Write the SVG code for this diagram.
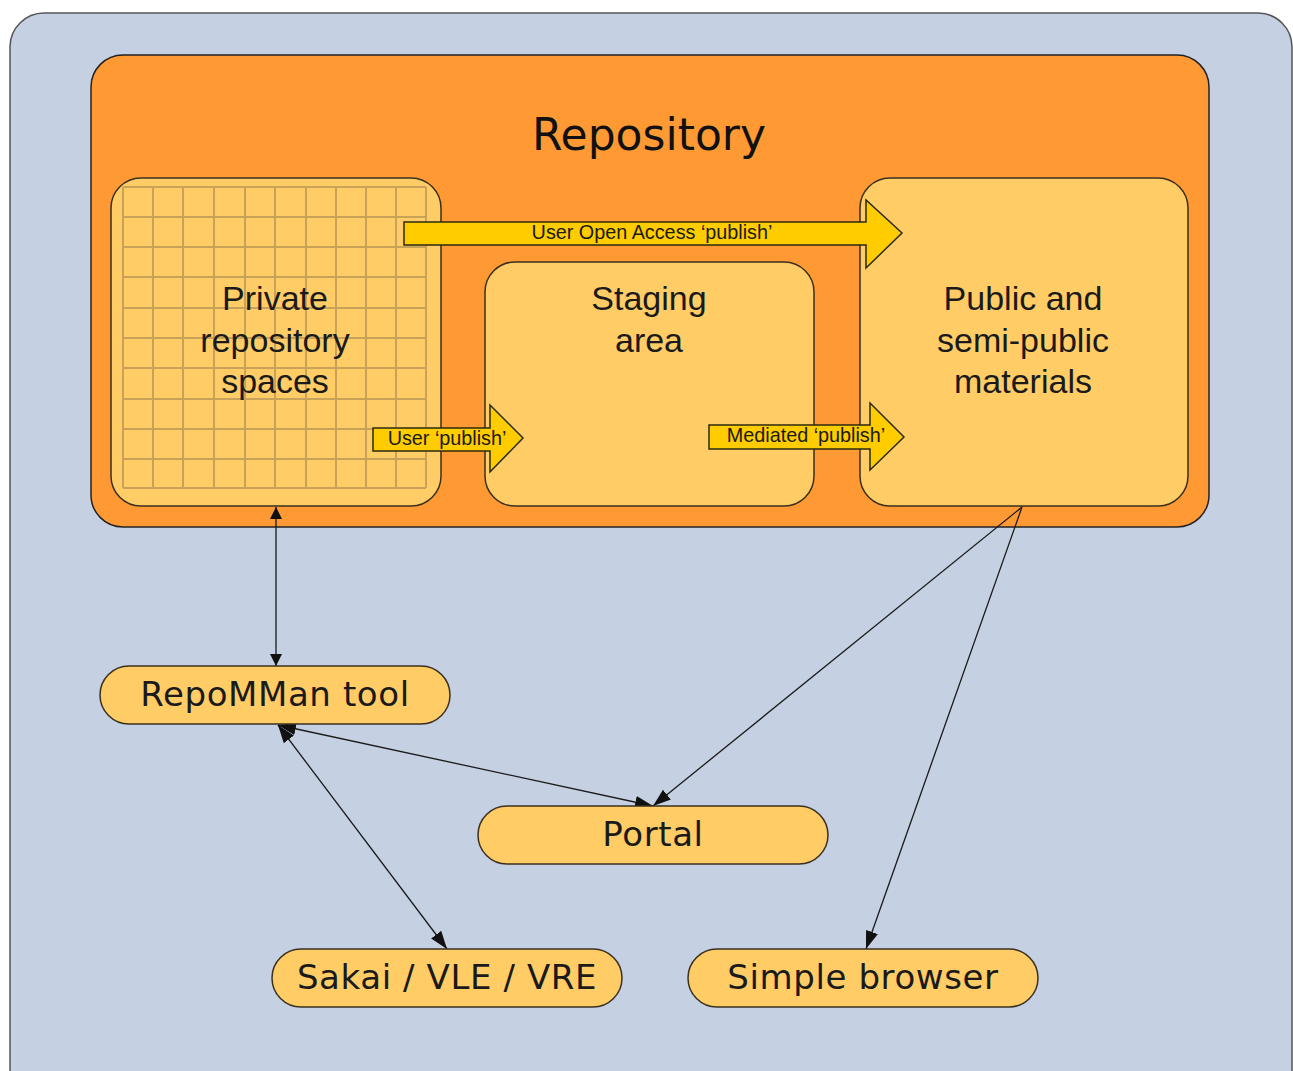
<svg xmlns="http://www.w3.org/2000/svg" width="1293" height="1071" viewBox="0 0 1293 1071">
  <defs>
    <style>
      .area { fill: #ffcc66; stroke: #3a3020; stroke-width: 1.5; }
      .pill { fill: #ffcc66; stroke: #3a3020; stroke-width: 1.5; }
      .box-label { font-family: "Liberation Sans", Arial, sans-serif; font-size: 34px; fill: #1a1a1a; text-anchor: middle; }
      .node-label { font-family: "DejaVu Sans", Verdana, sans-serif; font-size: 34px; letter-spacing: 0.6px; fill: #1a1a1a; text-anchor: middle; }
      .flow { fill: #ffcc00; stroke: #2a2a10; stroke-width: 1.5; stroke-linejoin: miter; }
      .flow-label { font-family: "Liberation Sans", Arial, sans-serif; font-size: 19.8px; fill: #1a1a1a; text-anchor: middle; }
      .link { stroke: #1a1a1a; stroke-width: 1.3; fill: none; }
      .grid { stroke: #c9a25a; stroke-width: 2; }
    </style>
    <marker id="head" viewBox="0 0 10 10" refX="10" refY="5" markerWidth="12" markerHeight="12" markerUnits="userSpaceOnUse" orient="auto-start-reverse">
      <path d="M0,0 L10,5 L0,10 Z" fill="#111"/>
    </marker>
    <marker id="headL" viewBox="0 0 10 10" refX="10" refY="5" markerWidth="18" markerHeight="18" markerUnits="userSpaceOnUse" orient="auto-start-reverse">
      <path d="M0,1.5 L10,5 L0,8.5 Z" fill="#111"/>
    </marker>
    <clipPath id="privClip">
      <rect x="111" y="178" width="330" height="328" rx="30"/>
    </clipPath>
  </defs>

  <!-- backdrop -->
  <rect x="10" y="13" width="1282" height="1100" rx="34" fill="#c5d0e3" stroke="#555" stroke-width="1.5"/>

  <!-- repository container -->
  <g id="repository">
    <rect x="91" y="55" width="1118" height="472" rx="32" fill="#ff9933" stroke="#222" stroke-width="1.5"/>
    <text x="649" y="150" font-family="DejaVu Sans, Verdana, sans-serif" font-size="44" fill="#111" text-anchor="middle">Repository</text>
  </g>

  <!-- private spaces with grid fill -->
  <g id="private-spaces">
    <rect class="area" x="111" y="178" width="330" height="328" rx="30"/>
    <g clip-path="url(#privClip)" class="grid">
      <path d="M123,187 V488 M153,187 V488 M183,187 V488 M214,187 V488 M245,187 V488 M275,187 V488 M306,187 V488 M336,187 V488 M366,187 V488 M396,187 V488 M426,187 V488"/>
      <path d="M123,187 H426 M123,217 H426 M123,247 H426 M123,277 H426 M123,308 H426 M123,338 H426 M123,368 H426 M123,399 H426 M123,429 H426 M123,459 H426 M123,488 H426"/>
    </g>
    <text class="box-label" x="275" y="310">Private</text>
    <text class="box-label" x="275" y="352">repository</text>
    <text class="box-label" x="275" y="393">spaces</text>
  </g>

  <g id="staging-area">
    <rect class="area" x="485" y="262" width="329" height="244" rx="30"/>
    <text class="box-label" x="649" y="310">Staging</text>
    <text class="box-label" x="649" y="352">area</text>
  </g>

  <g id="public-materials">
    <rect class="area" x="860" y="178" width="328" height="328" rx="30"/>
    <text class="box-label" x="1023" y="310">Public and</text>
    <text class="box-label" x="1023" y="352">semi-public</text>
    <text class="box-label" x="1023" y="393">materials</text>
  </g>

  <!-- publish flows -->
  <g id="flows">
    <g id="flow-open-access">
      <path class="flow" d="M404,222 H866 V200 L902,233 L866,268 V245 H404 Z"/>
      <text class="flow-label" x="652" y="239">User Open Access ‘publish’</text>
    </g>
    <g id="flow-user-publish">
      <path class="flow" d="M373,428 H490 V405 L523,438 L490,472 V451 H373 Z"/>
      <text class="flow-label" x="447" y="445">User ‘publish’</text>
    </g>
    <g id="flow-mediated-publish">
      <path class="flow" d="M709,425 H870 V403 L904,437 L870,470 V449 H709 Z"/>
      <text class="flow-label" x="806" y="442">Mediated ‘publish’</text>
    </g>
  </g>

  <!-- connectors -->
  <g id="connectors">
    <line class="link" x1="276" y1="507" x2="276" y2="666" marker-start="url(#head)" marker-end="url(#head)"/>
    <line class="link" x1="278" y1="725" x2="653" y2="806" marker-start="url(#headL)" marker-end="url(#headL)"/>
    <line class="link" x1="278" y1="725" x2="447" y2="949" marker-start="url(#headL)" marker-end="url(#headL)"/>
    <line class="link" x1="1022" y1="507" x2="653" y2="806" marker-end="url(#headL)"/>
    <line class="link" x1="1022" y1="507" x2="866" y2="949" marker-end="url(#headL)"/>
  </g>

  <!-- client nodes -->
  <g id="repomman-tool">
    <rect class="pill" x="100" y="666" width="350" height="58" rx="29"/>
    <text class="node-label" x="275" y="706">RepoMMan tool</text>
  </g>
  <g id="portal">
    <rect class="pill" x="478" y="806" width="350" height="58" rx="29"/>
    <text class="node-label" x="653" y="846">Portal</text>
  </g>
  <g id="sakai-vle-vre">
    <rect class="pill" x="272" y="949" width="350" height="58" rx="29"/>
    <text class="node-label" x="447" y="989">Sakai / VLE / VRE</text>
  </g>
  <g id="simple-browser">
    <rect class="pill" x="688" y="949" width="350" height="58" rx="29"/>
    <text class="node-label" x="863" y="989">Simple browser</text>
  </g>
</svg>
